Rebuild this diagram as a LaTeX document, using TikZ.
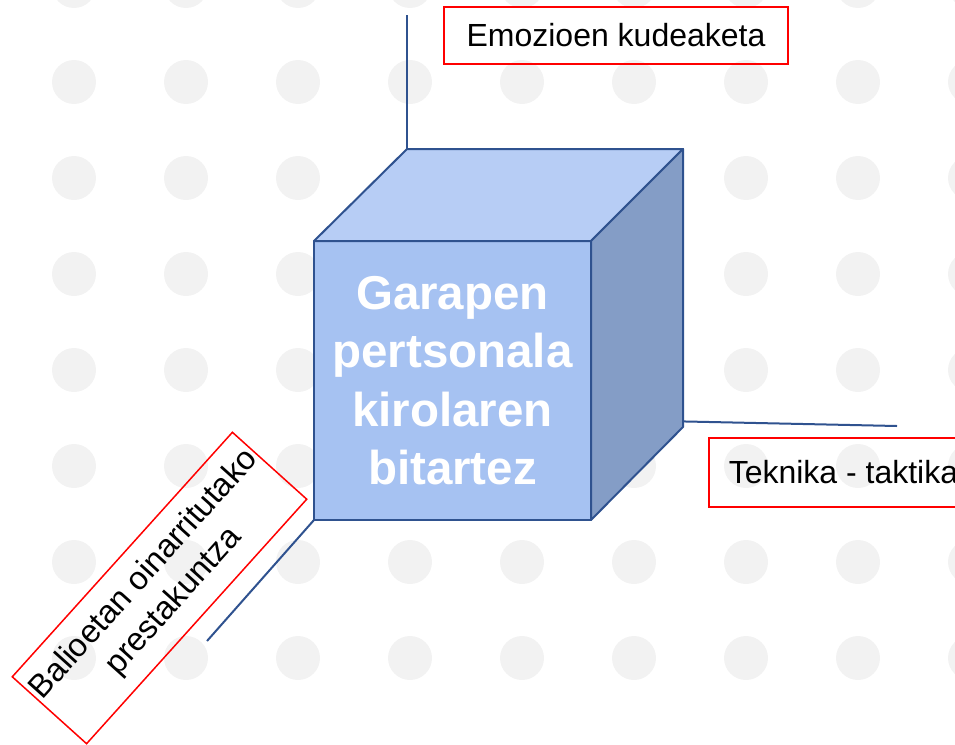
\documentclass[tikz,border=0pt]{standalone}
\usepackage{fontspec}
\setmainfont{Liberation Sans}
\usetikzlibrary{calc}
\definecolor{cubefront}{RGB}{166,194,242}
\definecolor{cubetop}{RGB}{183,205,245}
\definecolor{cubeside}{RGB}{132,157,198}
\definecolor{cubeline}{RGB}{47,82,143}
\definecolor{dotgray}{RGB}{242,242,242}

\begin{document}
\begin{tikzpicture}[x=1pt, y=-1pt,
  every node/.style={font=\fontsize{32}{38}\selectfont},
  label box/.style={draw=red, line width=1.5pt, align=center, inner sep=0pt},
  axis line/.style={draw=cubeline, line width=2pt},
  face/.style={draw=cubeline, line width=2pt, line join=round, outer sep=0pt}]
			\useasboundingbox (0,0) rectangle (955,744);
			\clip (0,0) rectangle (955,744);
			\foreach \cx in {0,...,8}
				\foreach \cy in {0,...,7}
					\fill[dotgray] (74+112*\cx, -14+96*\cy) circle (22pt);

			\node[face, fill=cubefront, minimum width=277pt, minimum height=279pt, text=white, align=center,
				font=\bfseries\fontsize{47.5}{58.5}\selectfont] (front) at (452.5,380.5) {Garapen\\pertsonala\\kirolaren\\bitartez};
			\draw[face, fill=cubetop] (front.north west) -- ++(93,-92) coordinate (backtl) -- ++(276,0) coordinate (backtr) -- (front.north east) -- cycle;
			\draw[face, fill=cubeside] (front.north east) -- (backtr) -- ++(0,278) coordinate (backbr) -- (front.south east) -- cycle;

			\coordinate (emoend) at (407,15);
			\coordinate (tekend) at (897,426);
			\coordinate (balend) at (207,641);
			\draw[axis line] (backtl) -- (emoend);
			\draw[axis line] ($(backtr)!0.98!(backbr)$) -- (tekend);
			\draw[axis line] (front.south west) -- (balend);

			\node[label box, minimum width=344pt, minimum height=57pt] (emo) at (616,35.5) {Emozioen kudeaketa};
			\node[label box, anchor=west, inner xsep=20pt, minimum height=69pt] (tek) at (708,472.5) {Teknika - taktika};
			\node[label box, rotate=48, minimum width=329pt, minimum height=100pt,
				font=\fontsize{32.5}{40}\selectfont] (bal) at (159.5,588) {Balioetan oinarritutako\\prestakuntza};
		\end{tikzpicture}
\end{document}
